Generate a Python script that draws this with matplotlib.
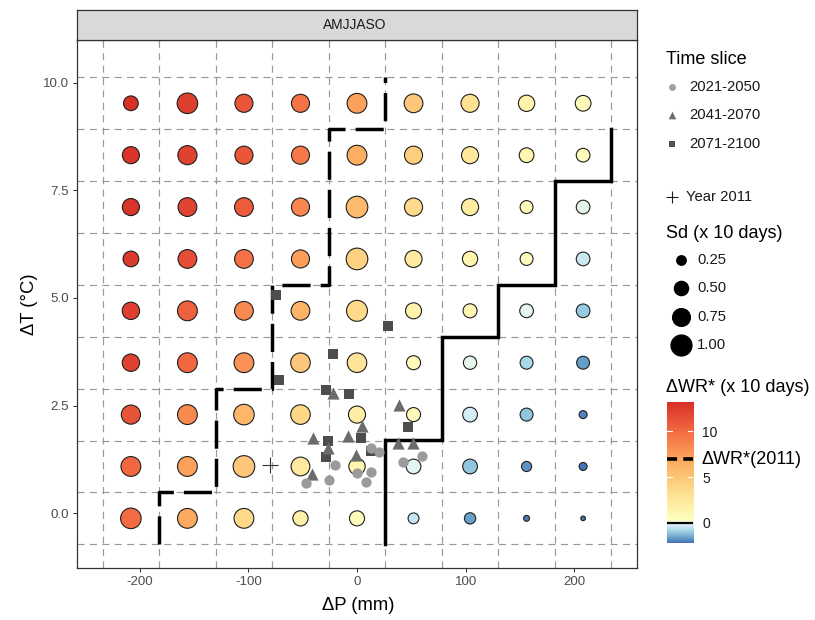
import numpy as np
import matplotlib
matplotlib.use("Agg")
import matplotlib.pyplot as plt
from matplotlib.colors import LinearSegmentedColormap, Normalize

plt.rcParams['font.family'] = ['Liberation Sans', 'DejaVu Sans']
plt.rcParams['axes.unicode_minus'] = False

# class centres of the sensitivity grid
dp_classes = [-208, -156, -104, -52, 0, 52, 104, 156, 208]
dt_classes = [9.52, 8.315, 7.11, 5.905, 4.70, 3.495, 2.29, 1.085, -0.12]   # top -> bottom

# change of water requirement (x 10 days), rows follow dt_classes
wr = [
    [13.2, 12.3, 11.2, 9.6, 7.3, 5.0, 3.2, 1.6, 0.6],
    [12.9, 12.2, 11.1, 9.3, 6.6, 4.5, 2.5, 1.3, 0.7],
    [12.9, 12.0, 10.8, 8.6, 5.8, 3.7, 2.1, 0.8, -0.05],
    [12.6, 11.6, 9.7, 7.4, 4.4, 2.2, 1.3, 0.4, -0.4],
    [12.4, 10.5, 8.5, 6.2, 3.8, 1.5, 1.0, -0.1, -1.0],
    [12.2, 10.2, 8.0, 5.0, 2.9, 0.7, -0.05, -0.8, -1.7],
    [11.3, 8.4, 6.0, 3.9, 2.0, 0.8, -0.3, -1.1, -2.0],
    [10.2, 7.3, 5.0, 2.4, 1.3, -0.15, -1.1, -1.8, -2.2],
    [10.0, 6.8, 3.8, 1.8, 0.6, -0.5, -1.6, -2.1, -2.2],
]

# standard deviation (x 10 days)
sd = [
    [0.45, 0.86, 0.67, 0.67, 0.80, 0.72, 0.67, 0.55, 0.51],
    [0.60, 0.75, 0.67, 0.67, 0.80, 0.67, 0.60, 0.45, 0.39],
    [0.60, 0.72, 0.72, 0.67, 0.95, 0.67, 0.60, 0.35, 0.39],
    [0.51, 0.72, 0.72, 0.67, 0.95, 0.60, 0.48, 0.35, 0.39],
    [0.62, 0.80, 0.72, 0.72, 0.89, 0.53, 0.41, 0.39, 0.39],
    [0.62, 0.80, 0.80, 0.78, 0.78, 0.41, 0.37, 0.35, 0.35],
    [0.75, 0.80, 0.86, 0.78, 0.60, 0.41, 0.45, 0.35, 0.14],
    [0.80, 0.80, 0.95, 0.72, 0.55, 0.45, 0.45, 0.22, 0.14],
    [0.86, 0.80, 0.80, 0.48, 0.47, 0.25, 0.27, 0.08, 0.05],
]

wr_2011 = 7.0

# contour lines along the class edges
line_2011_p = [-182, -182, -130, -130, -78, -78, -26, -26, 26, 26]
line_2011_t = [-0.72, 0.485, 0.485, 2.895, 2.895, 5.305, 5.305, 8.92, 8.92, 10.125]
line_zero_p = [26, 26, 78, 78, 130, 130, 182, 182, 234, 234]
line_zero_t = [-0.72, 1.69, 1.69, 4.10, 4.10, 5.305, 5.305, 7.715, 7.715, 8.92]

# climate projections per time slice
p_2021 = [12.9, 20.5, -20.2, -0.3, 12.9, 8.3, -25.5, -46.9, 42.0, 59.5]
t_2021 = [1.52, 1.43, 1.12, 0.93, 0.95, 0.73, 0.77, 0.71, 1.20, 1.33]
p_2041 = [-21.8, 38.6, 4.9, -40.2, -8.6, -26.4, -1.2, 37.4, 51.2, -41.1]
t_2041 = [2.80, 2.52, 2.03, 1.74, 1.80, 1.51, 1.35, 1.63, 1.63, 0.91]
p_2071 = [-74.1, 28.5, -22.1, -72.2, -28.8, -7.4, 47.2, 3.7, -26.4, -28.8, 12.9]
t_2071 = [5.06, 4.35, 3.69, 3.10, 2.86, 2.76, 2.01, 1.74, 1.68, 1.31, 1.45]
p_year2011 = [-80.0]
t_year2011 = [1.13]

slice_labels = ['2021-2050', '2041-2070', '2071-2100']
sd_breaks = [0.25, 0.50, 0.75, 1.00]
wr_breaks = [0, 5, 10]


W, H = 815, 620


def box(x0, y0, x1, y1):
    return [x0 / W, 1 - y1 / H, (x1 - x0) / W, (y1 - y0) / H]


def bubble_size(v):
    d = 0.4 + 22.7 * np.sqrt(np.asarray(v)) - 0.9
    return (np.maximum(d, 1) * 0.72) ** 2


wr_arr = np.array(wr)
sd_arr = np.array(sd)
vmin, vmax = wr_arr.min(), wr_arr.max()
norm = Normalize(vmin, vmax)
nodes = [(vmin, '#4575b4'), (-1.5, '#74add1'), (-0.8, '#abd9e9'), (-0.2, '#e0f3f8'),
         (0.3, '#ffffbf'), (3.3, '#fee090'), (6.6, '#fdae61'), (9.9, '#f46d43'),
         (vmax, '#d73027')]
cmap = LinearSegmentedColormap.from_list('wr', [(norm(v), c) for v, c in nodes])

fig = plt.figure(figsize=(W / 100, H / 100), dpi=100)
ax = fig.add_axes(box(77.3, 40, 636.7, 568.3))

# dashed class edges
dp_c = np.array(dp_classes, float)
dt_c = np.sort(np.array(dt_classes, float))
step_p = np.diff(dp_c).mean()
step_t = np.diff(dt_c).mean()
for e in np.r_[dp_c - step_p / 2, dp_c[-1] + step_p / 2]:
    ax.axvline(e, color='#999999', lw=0.85, dashes=(6, 4.5), zorder=1)
for e in np.r_[dt_c - step_t / 2, dt_c[-1] + step_t / 2]:
    ax.axhline(e, color='#999999', lw=0.85, dashes=(6, 4.5), zorder=1)

P, T = np.meshgrid(dp_classes, dt_classes)
ax.scatter(P.ravel(), T.ravel(), s=bubble_size(sd_arr.ravel()), c=wr_arr.ravel(),
           cmap=cmap, norm=norm, edgecolors='#1f1f1f', linewidths=0.8, zorder=3)

ax.plot(line_2011_p, line_2011_t, color='black', lw=2.5, dashes=(8.1, 2.9), zorder=4,
        solid_capstyle='butt', dash_capstyle='butt')
ax.plot(line_zero_p, line_zero_t, color='black', lw=2.5, zorder=4,
        solid_joinstyle='miter')

ax.scatter(p_2071, t_2071, marker='s', s=7.4 ** 2, color='#4d4d4d', lw=0, zorder=5)
ax.scatter(p_2041, t_2041, marker='^', s=8.8 ** 2, color='#6b6b6b', lw=0, zorder=6)
ax.scatter(p_2021, t_2021, marker='o', s=7.4 ** 2, color='#9a9a9a', lw=0, zorder=7)
ax.scatter(p_year2011, t_year2011, marker='+', s=12 ** 2, color='#333333', lw=0.8, zorder=7)

ax.set_xlim(-257.3, 257.3)
ax.set_ylim(-1.28, 10.99)
ax.set_xticks([-200, -100, 0, 100, 200])
ax.set_xticklabels(['-200', '-100', '0', '100', '200'])
ax.set_yticks([0, 2.5, 5, 7.5, 10])
ax.set_yticklabels(['0.0', '2.5', '5.0', '7.5', '10.0'])
ax.tick_params(length=2.75, width=0.75, color='#333333', labelcolor='#4d4d4d',
               labelsize=9.6)
ax.tick_params(axis='x', pad=2.5)
ax.tick_params(axis='y', pad=3.5)
for s in ax.spines.values():
    s.set_color('#333333')
    s.set_linewidth(0.9)

fig.text(358 / W, 1 - 605 / H, 'ΔP (mm)', ha='center', va='center', fontsize=13.3)
fig.text(30 / W, 1 - 304 / H, 'ΔT (°C)', ha='center', va='center', fontsize=13.3,
         rotation=90)

# facet strip
sax = fig.add_axes(box(77.3, 10, 636.7, 40))
sax.set_facecolor('#d9d9d9')
sax.set_xticks([])
sax.set_yticks([])
for s in sax.spines.values():
    s.set_color('#333333')
    s.set_linewidth(0.9)
sax.text(0.496, 0.5, 'AMJJASO', ha='center', va='center', fontsize=9.9,
         color='#1a1a1a', transform=sax.transAxes)

# legends, drawn in pixel coordinates
lax = fig.add_axes([0, 0, 1, 1])
lax.set_xlim(0, W)
lax.set_ylim(H, 0)
lax.axis('off')

lax.text(666, 59, 'Time slice', fontsize=13, va='center', ha='left')
key_style = [('o', '#a0a0a0', 5.0), ('^', '#6e6e6e', 5.5), ('s', '#505050', 4.6)]
for i, (lab, (m, c, ms)) in enumerate(zip(slice_labels, key_style)):
    y = 87 + i * 28.3
    lax.scatter([672], [y], marker=m, s=ms ** 2, color=c, lw=0)
    lax.text(689, y, lab, fontsize=10.7, va='center', ha='left', color='#1a1a1a')

lax.scatter([672], [196.7], marker='+', s=8 ** 2, color='#1a1a1a', lw=0.8)
lax.text(686.5, 196.7, 'Year 2011', fontsize=10.7, va='center', ha='left', color='#1a1a1a')

lax.text(666, 233, 'Sd (x 10 days)', fontsize=13, va='center', ha='left')
for i, b in enumerate(sd_breaks):
    y = 260 + i * 28.4
    lax.scatter([680.7], [y], s=bubble_size(b), color='black', lw=0)
    lax.text(697, y, f'{b:.2f}', fontsize=10.7, va='center', ha='left', color='#1a1a1a')

lax.text(666, 387, 'ΔWR* (x 10 days)', fontsize=13, va='center', ha='left')

cax = fig.add_axes(box(667, 402.3, 693, 542.7))
grad = np.linspace(vmin, vmax, 400)
cax.imshow(grad[:, None], aspect='auto', cmap=cmap, norm=norm, origin='lower',
           extent=[0, 1, vmin, vmax])
cax.set_xlim(0, 1)
cax.set_ylim(vmin, vmax)
for s in cax.spines.values():
    s.set_visible(False)
cax.set_xticks([])
cax.yaxis.tick_right()
cax.set_yticks(wr_breaks)
cax.set_yticklabels([str(b) for b in wr_breaks])
cax.tick_params(axis='y', length=0, pad=6.5, labelsize=10, labelcolor='#1a1a1a')
for b in wr_breaks[1:]:
    cax.plot([0, 0.2], [b, b], color='white', lw=0.8)
    cax.plot([0.8, 1], [b, b], color='white', lw=0.8)
cax.plot([0, 1], [0, 0], color='black', lw=1.6)
cax.plot([0, 1], [wr_2011, wr_2011], color='black', lw=2.6, dashes=(2.8, 1.7),
         dash_capstyle='butt')
lax.text(702, 459.3, 'ΔWR*(2011)', fontsize=13, va='center', ha='left')

fig.savefig('out.png', dpi=100)
